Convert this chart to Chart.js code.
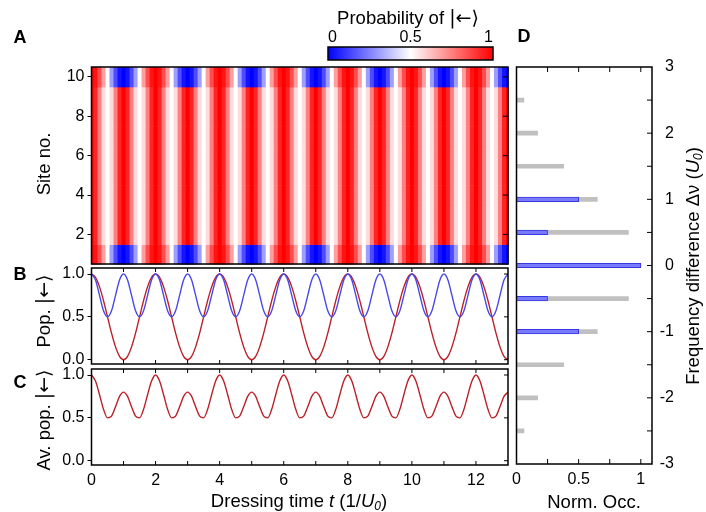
<!DOCTYPE html>
<html>
<head>
<meta charset="utf-8">
<script src="https://cdn.jsdelivr.net/npm/chart.js@4.4.1/dist/chart.umd.min.js"></script>
<style>
  body { margin: 0; background: #fff; }
  #fig { position: relative; width: 706px; height: 512px; }
  #fig canvas { position: absolute; left: 0; top: 0; }
</style>
</head>
<body>
<div id="fig">
  <canvas id="panelA" width="706" height="512"></canvas>
  <canvas id="panelB" width="706" height="512"></canvas>
  <canvas id="panelC" width="706" height="512"></canvas>
  <canvas id="panelD" width="706" height="512"></canvas>
</div>
<script>
// dressing time samples (1/U0)
const times = [
  0, 0.125, 0.25, 0.375, 0.5, 0.625, 0.75, 0.875,
  1, 1.125, 1.25, 1.375, 1.5, 1.625, 1.75, 1.875,
  2, 2.125, 2.25, 2.375, 2.5, 2.625, 2.75, 2.875,
  3, 3.125, 3.25, 3.375, 3.5, 3.625, 3.75, 3.875,
  4, 4.125, 4.25, 4.375, 4.5, 4.625, 4.75, 4.875,
  5, 5.125, 5.25, 5.375, 5.5, 5.625, 5.75, 5.875,
  6, 6.125, 6.25, 6.375, 6.5, 6.625, 6.75, 6.875,
  7, 7.125, 7.25, 7.375, 7.5, 7.625, 7.75, 7.875,
  8, 8.125, 8.25, 8.375, 8.5, 8.625, 8.75, 8.875,
  9, 9.125, 9.25, 9.375, 9.5, 9.625, 9.75, 9.875,
  10, 10.125, 10.25, 10.375, 10.5, 10.625, 10.75, 10.875,
  11, 11.125, 11.25, 11.375, 11.5, 11.625, 11.75, 11.875,
  12, 12.125, 12.25, 12.375, 12.5, 12.625, 12.75, 12.875,
  13
];

// population of |<-> on the edge sites (red curve in B)
const edgePop = [
  1, 0.96, 0.85, 0.69, 0.5, 0.31, 0.15, 0.04,
  0, 0.04, 0.15, 0.31, 0.5, 0.69, 0.85, 0.96,
  1, 0.96, 0.85, 0.69, 0.5, 0.31, 0.15, 0.04,
  0, 0.04, 0.15, 0.31, 0.5, 0.69, 0.85, 0.96,
  1, 0.96, 0.85, 0.69, 0.5, 0.31, 0.15, 0.04,
  0, 0.04, 0.15, 0.31, 0.5, 0.69, 0.85, 0.96,
  1, 0.96, 0.85, 0.69, 0.5, 0.31, 0.15, 0.04,
  0, 0.04, 0.15, 0.31, 0.5, 0.69, 0.85, 0.96,
  1, 0.96, 0.85, 0.69, 0.5, 0.31, 0.15, 0.04,
  0, 0.04, 0.15, 0.31, 0.5, 0.69, 0.85, 0.96,
  1, 0.96, 0.85, 0.69, 0.5, 0.31, 0.15, 0.04,
  0, 0.04, 0.15, 0.31, 0.5, 0.69, 0.85, 0.96,
  1, 0.96, 0.85, 0.69, 0.5, 0.31, 0.15, 0.04,
  0
];

// population on the bulk sites (blue curve in B)
const bulkPop = [
  1, 0.93, 0.75, 0.57, 0.5, 0.57, 0.75, 0.93,
  1, 0.93, 0.75, 0.57, 0.5, 0.57, 0.75, 0.93,
  1, 0.93, 0.75, 0.57, 0.5, 0.57, 0.75, 0.93,
  1, 0.93, 0.75, 0.57, 0.5, 0.57, 0.75, 0.93,
  1, 0.93, 0.75, 0.57, 0.5, 0.57, 0.75, 0.93,
  1, 0.93, 0.75, 0.57, 0.5, 0.57, 0.75, 0.93,
  1, 0.93, 0.75, 0.57, 0.5, 0.57, 0.75, 0.93,
  1, 0.93, 0.75, 0.57, 0.5, 0.57, 0.75, 0.93,
  1, 0.93, 0.75, 0.57, 0.5, 0.57, 0.75, 0.93,
  1, 0.93, 0.75, 0.57, 0.5, 0.57, 0.75, 0.93,
  1, 0.93, 0.75, 0.57, 0.5, 0.57, 0.75, 0.93,
  1, 0.93, 0.75, 0.57, 0.5, 0.57, 0.75, 0.93,
  1, 0.93, 0.75, 0.57, 0.5, 0.57, 0.75, 0.93,
  1
];

// chain-averaged population (C)
const avgPop = [
  1, 0.93, 0.77, 0.6, 0.5, 0.52, 0.63, 0.75,
  0.8, 0.75, 0.63, 0.52, 0.5, 0.6, 0.77, 0.93,
  1, 0.93, 0.77, 0.6, 0.5, 0.52, 0.63, 0.75,
  0.8, 0.75, 0.63, 0.52, 0.5, 0.6, 0.77, 0.93,
  1, 0.93, 0.77, 0.6, 0.5, 0.52, 0.63, 0.75,
  0.8, 0.75, 0.63, 0.52, 0.5, 0.6, 0.77, 0.93,
  1, 0.93, 0.77, 0.6, 0.5, 0.52, 0.63, 0.75,
  0.8, 0.75, 0.63, 0.52, 0.5, 0.6, 0.77, 0.93,
  1, 0.93, 0.77, 0.6, 0.5, 0.52, 0.63, 0.75,
  0.8, 0.75, 0.63, 0.52, 0.5, 0.6, 0.77, 0.93,
  1, 0.93, 0.77, 0.6, 0.5, 0.52, 0.63, 0.75,
  0.8, 0.75, 0.63, 0.52, 0.5, 0.6, 0.77, 0.93,
  1, 0.93, 0.77, 0.6, 0.5, 0.52, 0.63, 0.75,
  0.8
];

const siteNumbers = [1, 2, 3, 4, 5, 6, 7, 8, 9, 10];
const edgeSites = [1, 10];
const siteTicks = [2, 4, 6, 8, 10];
const popTicks = [0, 0.5, 1];
const timeTicks = [0, 2, 4, 6, 8, 10, 12];
const timeMinorTicks = [1, 2, 3, 4, 5, 6, 7, 8, 9, 10, 11, 12];
const colorbarTicks = [0, 0.5, 1];

// panel D
const freqLevels = [2.5, 2, 1.5, 1, 0.5, 0, -0.5, -1, -1.5, -2, -2.5];
const grayOcc = [0.06, 0.17, 0.38, 0.65, 0.9, 1, 0.9, 0.65, 0.38, 0.17, 0.06];
const blueOcc = [null, null, null, 0.5, 0.25, 1, 0.25, 0.5, null, null, null];
const freqTicks = [-3, -2, -1, 0, 1, 2, 3];
const freqMinorTicks = [-2.5, -2, -1.5, -1, -0.5, 0, 0.5, 1, 1.5, 2, 2.5];
const occTicks = [0, 0.5, 1];
const occMinorTicks = [0.25, 0.5, 0.75, 1];

const FONT = '"Liberation Sans", Arial, Helvetica, sans-serif';
const KET_FONT = '"DejaVu Sans", sans-serif';
const TITLE = 18.5;
const RED = 'rgb(188, 32, 38)';
const BLUE = 'rgb(72, 72, 235)';
Chart.defaults.font.family = FONT;
Chart.defaults.font.size = 16;
Chart.defaults.color = '#000';

function probColor(p) {
    if (p < 0.5) {
        const f = Math.round(255 * p / 0.5);
        return `rgb(${f},${f},255)`;
    }
    const f = Math.round(255 * (1 - p) / 0.5);
    return `rgb(255,${f},${f})`;
}

function drawRich(ctx, parts, cx, cy, angle) {
    ctx.save();
    ctx.translate(cx, cy);
    ctx.rotate(angle || 0);
    ctx.textBaseline = 'middle';
    ctx.textAlign = 'left';
    ctx.fillStyle = '#000';
    const fonts = parts.map(p =>
        `${p.italic ? 'italic ' : ''}${p.bold ? 'bold ' : ''}${p.size || TITLE}px ${p.family || FONT}`);
    let total = 0;
    const widths = parts.map((p, i) => {
        ctx.font = fonts[i];
        const w = ctx.measureText(p.text).width;
        total += w;
        return w;
    });
    let x = -total / 2;
    parts.forEach((p, i) => {
        ctx.font = fonts[i];
        ctx.fillText(p.text, x, p.dy || 0);
        x += widths[i];
    });
    ctx.restore();
}

const tickValues = arr => scale => { scale.ticks = arr.map(v => ({ value: v })); };

// box round the plot area with inward ticks
const framePlugin = {
    id: 'frame',
    afterDatasetsDraw(chart, args, opts) {
        const { ctx, chartArea: a, scales } = chart;
        const len = opts.len || 4;
        ctx.save();
        ctx.strokeStyle = '#000';
        ctx.lineWidth = 1;
        ctx.beginPath();
        (opts.top || []).forEach(v => {
            const x = scales.x.getPixelForValue(v);
            ctx.moveTo(x, a.top); ctx.lineTo(x, a.top + len);
        });
        (opts.bottom || []).forEach(v => {
            const x = scales.x.getPixelForValue(v);
            ctx.moveTo(x, a.bottom); ctx.lineTo(x, a.bottom - len);
        });
        (opts.right || []).forEach(v => {
            const y = scales.y.getPixelForValue(v);
            ctx.moveTo(a.right, y); ctx.lineTo(a.right - len, y);
        });
        ctx.stroke();
        ctx.lineWidth = 1.5;
        ctx.strokeRect(a.left, a.top, a.right - a.left, a.bottom - a.top);
        ctx.restore();
    }
};

const textPlugin = {
    id: 'texts',
    afterDraw(chart, args, opts) {
        (opts.items || []).forEach(it => drawRich(chart.ctx, it.parts, it.x, it.y, it.rot));
    }
};

const heatmapPlugin = {
    id: 'heatmap',
    beforeDatasetsDraw(chart) {
        const { ctx, chartArea: a, scales: { x, y } } = chart;
        const half = (times[1] - times[0]) / 2;
        ctx.save();
        siteNumbers.forEach(site => {
            const values = edgeSites.includes(site) ? edgePop : bulkPop;
            const y0 = y.getPixelForValue(site + 0.5);
            const y1 = y.getPixelForValue(site - 0.5);
            times.forEach((t, i) => {
                const x0 = Math.max(a.left, x.getPixelForValue(t - half));
                const x1 = Math.min(a.right, x.getPixelForValue(t + half));
                ctx.fillStyle = probColor(values[i]);
                ctx.fillRect(x0, y0, x1 - x0 + 0.6, y1 - y0 + 0.6);
            });
        });
        ctx.restore();

        // colour bar
        const cb = { left: 328, right: 493, top: 47, bottom: 60 };
        const grad = ctx.createLinearGradient(cb.left, 0, cb.right, 0);
        [0, 0.25, 0.5, 0.75, 1].forEach(p => grad.addColorStop(p, probColor(p)));
        ctx.save();
        ctx.fillStyle = grad;
        ctx.fillRect(cb.left, cb.top, cb.right - cb.left, cb.bottom - cb.top);
        ctx.strokeStyle = '#000';
        ctx.lineWidth = 1.5;
        ctx.strokeRect(cb.left, cb.top, cb.right - cb.left, cb.bottom - cb.top);
        ctx.fillStyle = '#000';
        ctx.font = `16px ${FONT}`;
        ctx.textBaseline = 'alphabetic';
        colorbarTicks.forEach((v, i) => {
            ctx.textAlign = i === 0 ? 'left' : (i === colorbarTicks.length - 1 ? 'right' : 'center');
            ctx.fillText(String(v), cb.left + v * (cb.right - cb.left), 42);
        });
        ctx.restore();
    }
};

const KET = [
    { text: '|', family: KET_FONT, size: 19 },
    { text: '\u2190', family: KET_FONT, size: 19 },
    { text: '\u27E9', family: KET_FONT, size: 19 }
];
const SUB0 = { text: '0', italic: true, size: 12, dy: 5 };

const yAxis = (min, max, ticks, width, fmt) => ({
    type: 'linear', min, max,
    afterFit: s => { s.width = width; },
    afterBuildTicks: tickValues(ticks),
    ticks: { callback: fmt, padding: 3 },
    grid: { drawOnChartArea: false, tickLength: 4, color: '#000', lineWidth: 1 },
    border: { display: false }
});

const base = {
    responsive: false,
    animation: false,
    devicePixelRatio: 1,
};

// A: heat map
new Chart(document.getElementById('panelA'), {
    type: 'scatter',
    data: { datasets: [] },
    options: {
        ...base,
        layout: { padding: { left: 91.5 - 45, top: 67, right: 706 - 508, bottom: 512 - 264 } },
        plugins: {
            legend: { display: false }, tooltip: { enabled: false },
            frame: { right: siteTicks, len: 5 },
            texts: { items: [
                { parts: [{ text: 'A', bold: true, size: 18 }], x: 20, y: 38 },
                { parts: [{ text: 'D', bold: true, size: 18 }], x: 524, y: 37 },
                { parts: [{ text: 'Site no.' }], x: 45, y: 164, rot: -Math.PI / 2 },
                { parts: [{ text: 'Probability of ' }, ...KET], x: 408, y: 19 }
            ] }
        },
        scales: {
            x: { type: 'linear', min: 0, max: 13, display: false },
            y: yAxis(0.5, 10.5, siteTicks, 45, v => String(v))
        }
    },
    plugins: [heatmapPlugin, framePlugin, textPlugin]
});

const lineSet = (values, color) => ({
    data: times.map((t, i) => ({ x: t, y: values[i] })),
    borderColor: color,
    borderWidth: 1.4,
    pointRadius: 0,
    cubicInterpolationMode: 'monotone',
    fill: false
});

// B: edge and bulk populations
new Chart(document.getElementById('panelB'), {
    type: 'line',
    data: { datasets: [lineSet(bulkPop, BLUE), lineSet(edgePop, RED)] },
    options: {
        ...base,
        layout: { padding: { left: 91.5 - 40, top: 268, right: 706 - 508, bottom: 512 - 364 } },
        plugins: {
            legend: { display: false }, tooltip: { enabled: false },
            frame: { top: timeMinorTicks, bottom: timeMinorTicks, right: popTicks, len: 4 },
            texts: { items: [
                { parts: [{ text: 'B', bold: true, size: 18 }], x: 20, y: 275 },
                { parts: [{ text: 'Pop. ' }, ...KET], x: 45, y: 311, rot: -Math.PI / 2 }
            ] }
        },
        scales: {
            x: { type: 'linear', min: 0, max: 13, display: false },
            y: yAxis(-0.05, 1.07, popTicks, 40, v => v.toFixed(1))
        }
    },
    plugins: [framePlugin, textPlugin]
});

// C: averaged population
new Chart(document.getElementById('panelC'), {
    type: 'line',
    data: { datasets: [lineSet(avgPop, RED)] },
    options: {
        ...base,
        layout: { padding: { left: 91.5 - 40, top: 369, right: 706 - 508, bottom: 512 - 465 - 30 } },
        plugins: {
            legend: { display: false }, tooltip: { enabled: false },
            frame: { top: timeMinorTicks, bottom: timeMinorTicks, right: popTicks, len: 4 },
            texts: { items: [
                { parts: [{ text: 'C', bold: true, size: 18 }], x: 20, y: 383 },
                { parts: [{ text: 'Av. pop. ' }, ...KET], x: 45, y: 420, rot: -Math.PI / 2 },
                { parts: [
                    { text: 'Dressing time ' }, { text: 't', italic: true }, { text: ' (1/' },
                    { text: 'U', italic: true }, SUB0, { text: ')' }
                ], x: 299, y: 502 }
            ] }
        },
        scales: {
            x: {
                type: 'linear', min: 0, max: 13,
                afterFit: s => { s.height = 30; },
                afterBuildTicks: tickValues(timeTicks),
                ticks: { callback: v => String(v), padding: 6, maxRotation: 0 },
                grid: { drawOnChartArea: false, drawTicks: false },
                border: { display: false }
            },
            y: yAxis(-0.05, 1.07, popTicks, 40, v => v.toFixed(1))
        }
    },
    plugins: [framePlugin, textPlugin]
});

// D: occupation of frequency differences
new Chart(document.getElementById('panelD'), {
    type: 'bar',
    data: {
        datasets: [
            {
                data: freqLevels.map((f, i) => ({ x: blueOcc[i], y: f })).filter(d => d.x !== null),
                backgroundColor: 'rgb(122, 122, 255)',
                borderColor: 'rgb(55, 55, 225)',
                borderWidth: 1,
                barThickness: 4.5,
                grouped: false
            },
            {
                data: freqLevels.map((f, i) => ({ x: grayOcc[i], y: f })),
                backgroundColor: 'rgb(192, 192, 192)',
                borderWidth: 0,
                barThickness: 4,
                grouped: false
            }
        ]
    },
    options: {
        ...base,
        indexAxis: 'y',
        layout: { padding: { left: 516.5, top: 67, right: 706 - 652 - 22, bottom: 512 - 464 - 30 } },
        plugins: {
            legend: { display: false }, tooltip: { enabled: false },
            frame: { top: occMinorTicks, bottom: occMinorTicks, right: freqMinorTicks, len: 5 },
            texts: { items: [
                { parts: [{ text: 'Norm. Occ.' }], x: 594, y: 503 },
                { parts: [
                    { text: 'Frequency difference \u0394\u03BD (' }, { text: 'U', italic: true },
                    SUB0, { text: ')' }
                ], x: 694, y: 266, rot: -Math.PI / 2 }
            ] }
        },
        scales: {
            x: {
                type: 'linear', min: 0, max: 1.09, position: 'bottom',
                afterFit: s => { s.height = 30; },
                afterBuildTicks: tickValues(occTicks),
                ticks: { callback: v => String(v), padding: 6, maxRotation: 0 },
                grid: { drawOnChartArea: false, drawTicks: false },
                border: { display: false }
            },
            y: {
                type: 'linear', min: -3, max: 3, position: 'right', offset: false,
                afterFit: s => { s.width = 22; },
                afterBuildTicks: tickValues(freqTicks),
                ticks: { callback: v => String(v), padding: 0, crossAlign: 'far' },
                grid: { drawOnChartArea: false, drawTicks: false, offset: false },
                border: { display: false }
            }
        }
    },
    plugins: [framePlugin, textPlugin]
});
</script>
</body>
</html>
